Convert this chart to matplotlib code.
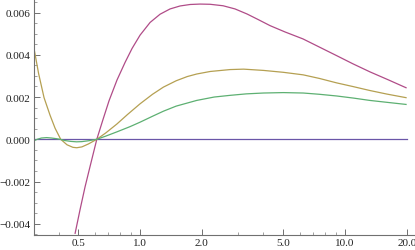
import matplotlib
matplotlib.use("Agg")
import matplotlib.pyplot as plt
from matplotlib.ticker import FixedLocator, FuncFormatter

# values (x on a log axis)
zero_x = [0.302, 20.0]
zero_y = [0.0, 0.0]

mag_x = [0.482, 0.510, 0.539, 0.570, 0.615, 0.660, 0.706, 0.772, 0.845,
         0.914, 1.0, 1.119, 1.252, 1.401, 1.567, 1.754, 1.962, 2.195, 2.541,
         2.906, 3.327, 3.764, 4.306, 5.097, 6.238, 7.551, 9.141, 10.94,
         13.24, 16.21, 19.85]
mag_y = [-0.00445, -0.00331, -0.00225, -0.00129, 0.0, 0.00095, 0.00183,
         0.00281, 0.00364, 0.0043, 0.00493, 0.00553, 0.00592, 0.00617,
         0.00631, 0.00638, 0.0064, 0.00639, 0.00632, 0.00617, 0.00593,
         0.00567, 0.00538, 0.00508, 0.00475, 0.00435, 0.00395, 0.00357,
         0.00319, 0.00282, 0.00244]

oli_x = [0.302, 0.32, 0.34, 0.364, 0.385, 0.41, 0.44, 0.47, 0.491, 0.52,
         0.56, 0.615, 0.68, 0.77, 0.87, 1.0, 1.15, 1.3, 1.5, 1.7, 1.89, 2.2,
         2.75, 3.2, 4.0, 5.0, 6.25, 7.5, 9.1, 11.0, 13.2, 16.0, 19.85]
oli_y = [0.00443, 0.0031, 0.00197, 0.00113, 0.00052, 0.0, -0.00026,
         -0.00038, -0.0004, -0.00036, -0.00022, 0.0, 0.0003, 0.00072,
         0.00118, 0.00168, 0.00213, 0.00247, 0.00277, 0.00297, 0.00309,
         0.00321, 0.0033, 0.00332, 0.00326, 0.00317, 0.00305, 0.00288,
         0.00267, 0.00249, 0.00231, 0.00214, 0.00197]

grn_x = [0.302, 0.315, 0.33, 0.35, 0.37, 0.39, 0.407, 0.43, 0.46, 0.49, 0.52,
         0.56, 0.615, 0.68, 0.77, 0.894, 1.0, 1.15, 1.3, 1.5, 1.89, 2.3, 2.75,
         3.3, 4.0, 5.0, 6.25, 7.5, 9.1, 11.0, 13.2, 16.0, 19.85]
grn_y = [-0.00008, 0.0, 0.00006, 0.00008, 0.00006, 0.00003, 0.0, -0.00006,
         -0.0001, -0.00012, -0.00011, -0.00007, 0.0, 0.00015, 0.00035,
         0.0006, 0.00081, 0.00109, 0.00133, 0.00157, 0.00184, 0.002, 0.00208,
         0.00215, 0.00219, 0.00221, 0.00219, 0.00213, 0.00205, 0.00195,
         0.00184, 0.00175, 0.00165]

x_major = [0.5, 1.0, 2.0, 5.0, 10.0, 20.0]
x_minor = [0.4, 0.6, 0.7, 0.8, 0.9, 3.0, 4.0, 6.0, 7.0, 8.0, 9.0]
y_major = [-0.004, -0.002, 0.0, 0.002, 0.004, 0.006]
y_minor = [-0.0045, -0.0035, -0.003, -0.0025, -0.0015, -0.001, -0.0005,
           0.0005, 0.001, 0.0015, 0.0025, 0.003, 0.0035, 0.0045, 0.005,
           0.0055, 0.0065]

plt.rcParams['font.family'] = ['Liberation Serif', 'DejaVu Serif']

fig = plt.figure(figsize=(4.15, 2.51), dpi=100)
ax = fig.add_axes([33.5 / 415, 15 / 251, 1 - 33.5 / 415, 1 - 15 / 251])

lw = 0.9
ax.plot(zero_x, zero_y, color='#6A56A8', lw=lw)
ax.plot(mag_x, mag_y, color='#B04C88', lw=lw)
ax.plot(oli_x, oli_y, color='#B5A052', lw=lw)
ax.plot(grn_x, grn_y, color='#5DB072', lw=lw)

ax.set_xscale('log')
ax.set_xlim(0.302, 21.95)
ax.set_ylim(-0.00453, 0.00664)

ax.xaxis.set_major_locator(FixedLocator(x_major))
ax.xaxis.set_minor_locator(FixedLocator(x_minor))
ax.xaxis.set_major_formatter(FuncFormatter(lambda v, p: '%.1f' % v))
ax.xaxis.set_minor_formatter(FuncFormatter(lambda v, p: ''))
ax.yaxis.set_major_locator(FixedLocator(y_major))
ax.yaxis.set_minor_locator(FixedLocator(y_minor))
ax.yaxis.set_major_formatter(FuncFormatter(
    lambda v, p: ('%.3f' % v).replace('-', '\u2212') if abs(v) > 1e-9 else '0.000'))

for s in ['top', 'right']:
    ax.spines[s].set_visible(False)
for s in ['left', 'bottom']:
    ax.spines[s].set_color('#707070')
    ax.spines[s].set_linewidth(0.8)

ax.tick_params(which='major', direction='in', length=4.5, width=0.7,
               color='#707070', labelsize=8, labelcolor='#222222', pad=2)
ax.tick_params(which='minor', direction='in', length=2.5, width=0.6,
               color='#909090')
ax.patch.set_visible(False)

fig.savefig('out.png', dpi=100)
